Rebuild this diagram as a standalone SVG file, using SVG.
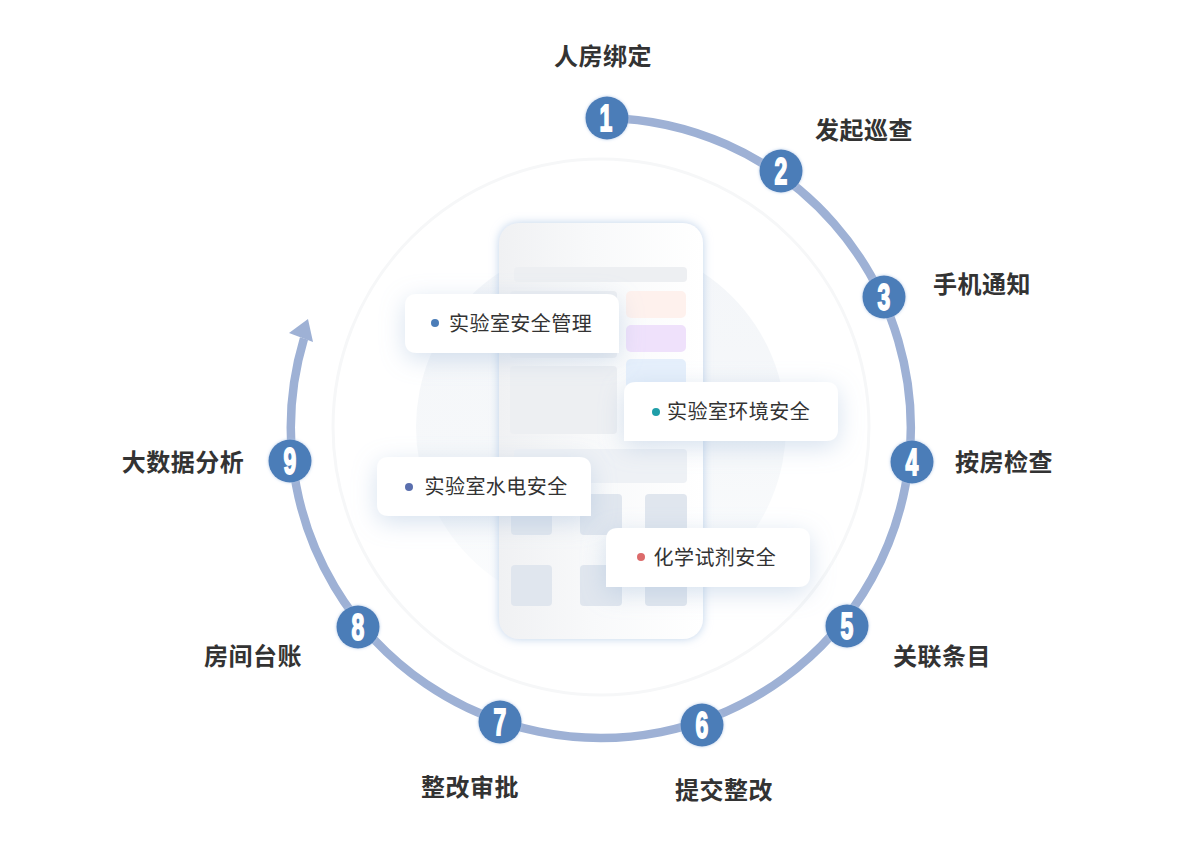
<svg xmlns="http://www.w3.org/2000/svg" width="1200" height="861" viewBox="0 0 1200 861">
<defs>
<linearGradient id="phoneFill" x1="0" y1="0" x2="1" y2="0"><stop offset="0" stop-color="#f0f1f3"/><stop offset="0.45" stop-color="#f8f9fa"/><stop offset="1" stop-color="#ffffff"/></linearGradient>
<linearGradient id="discFill" x1="0" y1="0" x2="0" y2="1"><stop offset="0" stop-color="#f4f6f9"/><stop offset="0.6" stop-color="#f6f8fa"/><stop offset="1" stop-color="#fcfdfe"/></linearGradient>
<filter id="phoneShadow" x="-20%" y="-10%" width="140%" height="120%"><feDropShadow dx="0" dy="0" stdDeviation="5" flood-color="#a3bfe2" flood-opacity="0.7"/></filter>
<filter id="cardShadow" x="-25%" y="-50%" width="150%" height="220%"><feDropShadow dx="0" dy="6" stdDeviation="12" flood-color="#9db7d8" flood-opacity="0.42"/></filter>
<filter id="nodeHalo" x="-30%" y="-30%" width="160%" height="160%"><feDropShadow dx="0" dy="0" stdDeviation="1.500" flood-color="#a9c3e4" flood-opacity="0.9"/></filter>
<style>
.lbl{font-family:"Noto Sans CJK SC","Liberation Sans",sans-serif;font-size:24px;letter-spacing:.5px;font-weight:700;fill:#333;text-anchor:middle;dominant-baseline:central}
.card{font-family:"Noto Sans CJK SC","Liberation Sans",sans-serif;font-size:20px;letter-spacing:.45px;fill:#333;dominant-baseline:central}
.num{font-family:"Liberation Sans",sans-serif;font-size:37px;font-weight:700;fill:#fff;stroke:#fff;stroke-width:1.8;text-anchor:middle;dominant-baseline:central}
.dot{r:21.5px;fill:#4b7db8;filter:url(#nodeHalo)}
.a{fill:#edeff2}.b{fill:#e0e6ee}
.c{fill:#fff;filter:url(#cardShadow)}
</style>
</defs>
<rect width="1200" height="861" fill="#fff"/>
<g id="backdrop">
<circle cx="601" cy="427" r="185" fill="url(#discFill)"/>
<circle cx="601" cy="427" r="268" fill="none" stroke="#f6f7f8" stroke-width="3"/>
</g>
<g id="phone">
<rect x="499" y="223" width="204" height="416" rx="20" fill="url(#phoneFill)" filter="url(#phoneShadow)"/>
<rect class="a" x="514" y="267" width="173" height="15" rx="4"/>
<rect class="a" x="510" y="291" width="107" height="67" rx="4"/>
<rect x="626" y="291" width="60" height="27" rx="5" fill="#fef1ed"/>
<rect x="626" y="325" width="60" height="27" rx="5" fill="#efe1fb"/>
<rect x="626" y="359" width="60" height="30" rx="5" fill="#e5effb"/>
<rect class="a" x="510" y="366" width="107" height="68" rx="4"/>
<rect x="514" y="449" width="173" height="34" rx="4" fill="#eef1f5"/>
<rect class="b" x="511" y="494" width="41" height="41" rx="4"/>
<rect class="b" x="580" y="494" width="42" height="41" rx="4"/>
<rect class="b" x="645" y="494" width="42" height="41" rx="4"/>
<rect class="b" x="511" y="565" width="41" height="41" rx="4"/>
<rect class="b" x="580" y="565" width="42" height="41" rx="4"/>
<rect class="b" x="645" y="565" width="42" height="41" rx="4"/>
</g>
<g id="connectors">
<path d="M607 118 A310 310 0 1 1 304 338.500" fill="none" stroke="#9eb1d5" stroke-width="8.500"/>
<polygon points="308,319 289,333 313,342" fill="#9eb1d5"/>
</g>
<g id="card-1">
<path class="c" d="M417 294H607Q619 294 619 306V353H417Q405 353 405 341V306Q405 294 417 294Z"/>
<circle cx="435" cy="323" r="4" fill="#4b7db8"/>
<text class="card" x="449" y="322.500">实验室安全管理</text>
</g>
<g id="card-2">
<path class="c" d="M636 382H826Q838 382 838 394V429Q838 441 826 441H624V394Q624 382 636 382Z"/>
<circle cx="656" cy="412" r="4" fill="#1f9ea8"/>
<text class="card" x="667" y="410.500">实验室环境安全</text>
</g>
<g id="card-3">
<path class="c" d="M389 457H579Q591 457 591 469V516H389Q377 516 377 504V469Q377 457 389 457Z"/>
<circle cx="409" cy="487" r="4" fill="#5a6fae"/>
<text class="card" x="424.500" y="485.500">实验室水电安全</text>
</g>
<g id="card-4">
<path class="c" d="M618 528H798Q810 528 810 540V575Q810 587 798 587H606V540Q606 528 618 528Z"/>
<circle cx="641" cy="557" r="4" fill="#dc6b6b"/>
<text class="card" x="653.500" y="556.500">化学试剂安全</text>
</g>
<g id="node-1"><circle class="dot" cx="607" cy="118"/><text class="num" transform="translate(606 118) scale(.62 1)">1</text><text class="lbl" x="603" y="54">人房绑定</text></g>
<g id="node-2"><circle class="dot" cx="781" cy="171"/><text class="num" transform="translate(781 171) scale(.62 1)">2</text><text class="lbl" x="864" y="128">发起巡查</text></g>
<g id="node-3"><circle class="dot" cx="884" cy="297"/><text class="num" transform="translate(884 297) scale(.62 1)">3</text><text class="lbl" x="982" y="282">手机通知</text></g>
<g id="node-4"><circle class="dot" cx="912" cy="462"/><text class="num" transform="translate(912 462) scale(.62 1)">4</text><text class="lbl" x="1004" y="460">按房检查</text></g>
<g id="node-5"><circle class="dot" cx="847" cy="626"/><text class="num" transform="translate(847 626) scale(.62 1)">5</text><text class="lbl" x="942" y="654">关联条目</text></g>
<g id="node-6"><circle class="dot" cx="702" cy="725"/><text class="num" transform="translate(702 725) scale(.62 1)">6</text><text class="lbl" x="724" y="788">提交整改</text></g>
<g id="node-7"><circle class="dot" cx="500" cy="722"/><text class="num" transform="translate(500 722) scale(.62 1)">7</text><text class="lbl" x="470" y="785">整改审批</text></g>
<g id="node-8"><circle class="dot" cx="358" cy="627"/><text class="num" transform="translate(358 627) scale(.62 1)">8</text><text class="lbl" x="253" y="654">房间台账</text></g>
<g id="node-9"><circle class="dot" cx="290" cy="461"/><text class="num" transform="translate(290 461) scale(.62 1)">9</text><text class="lbl" x="183" y="460">大数据分析</text></g>
</svg>
